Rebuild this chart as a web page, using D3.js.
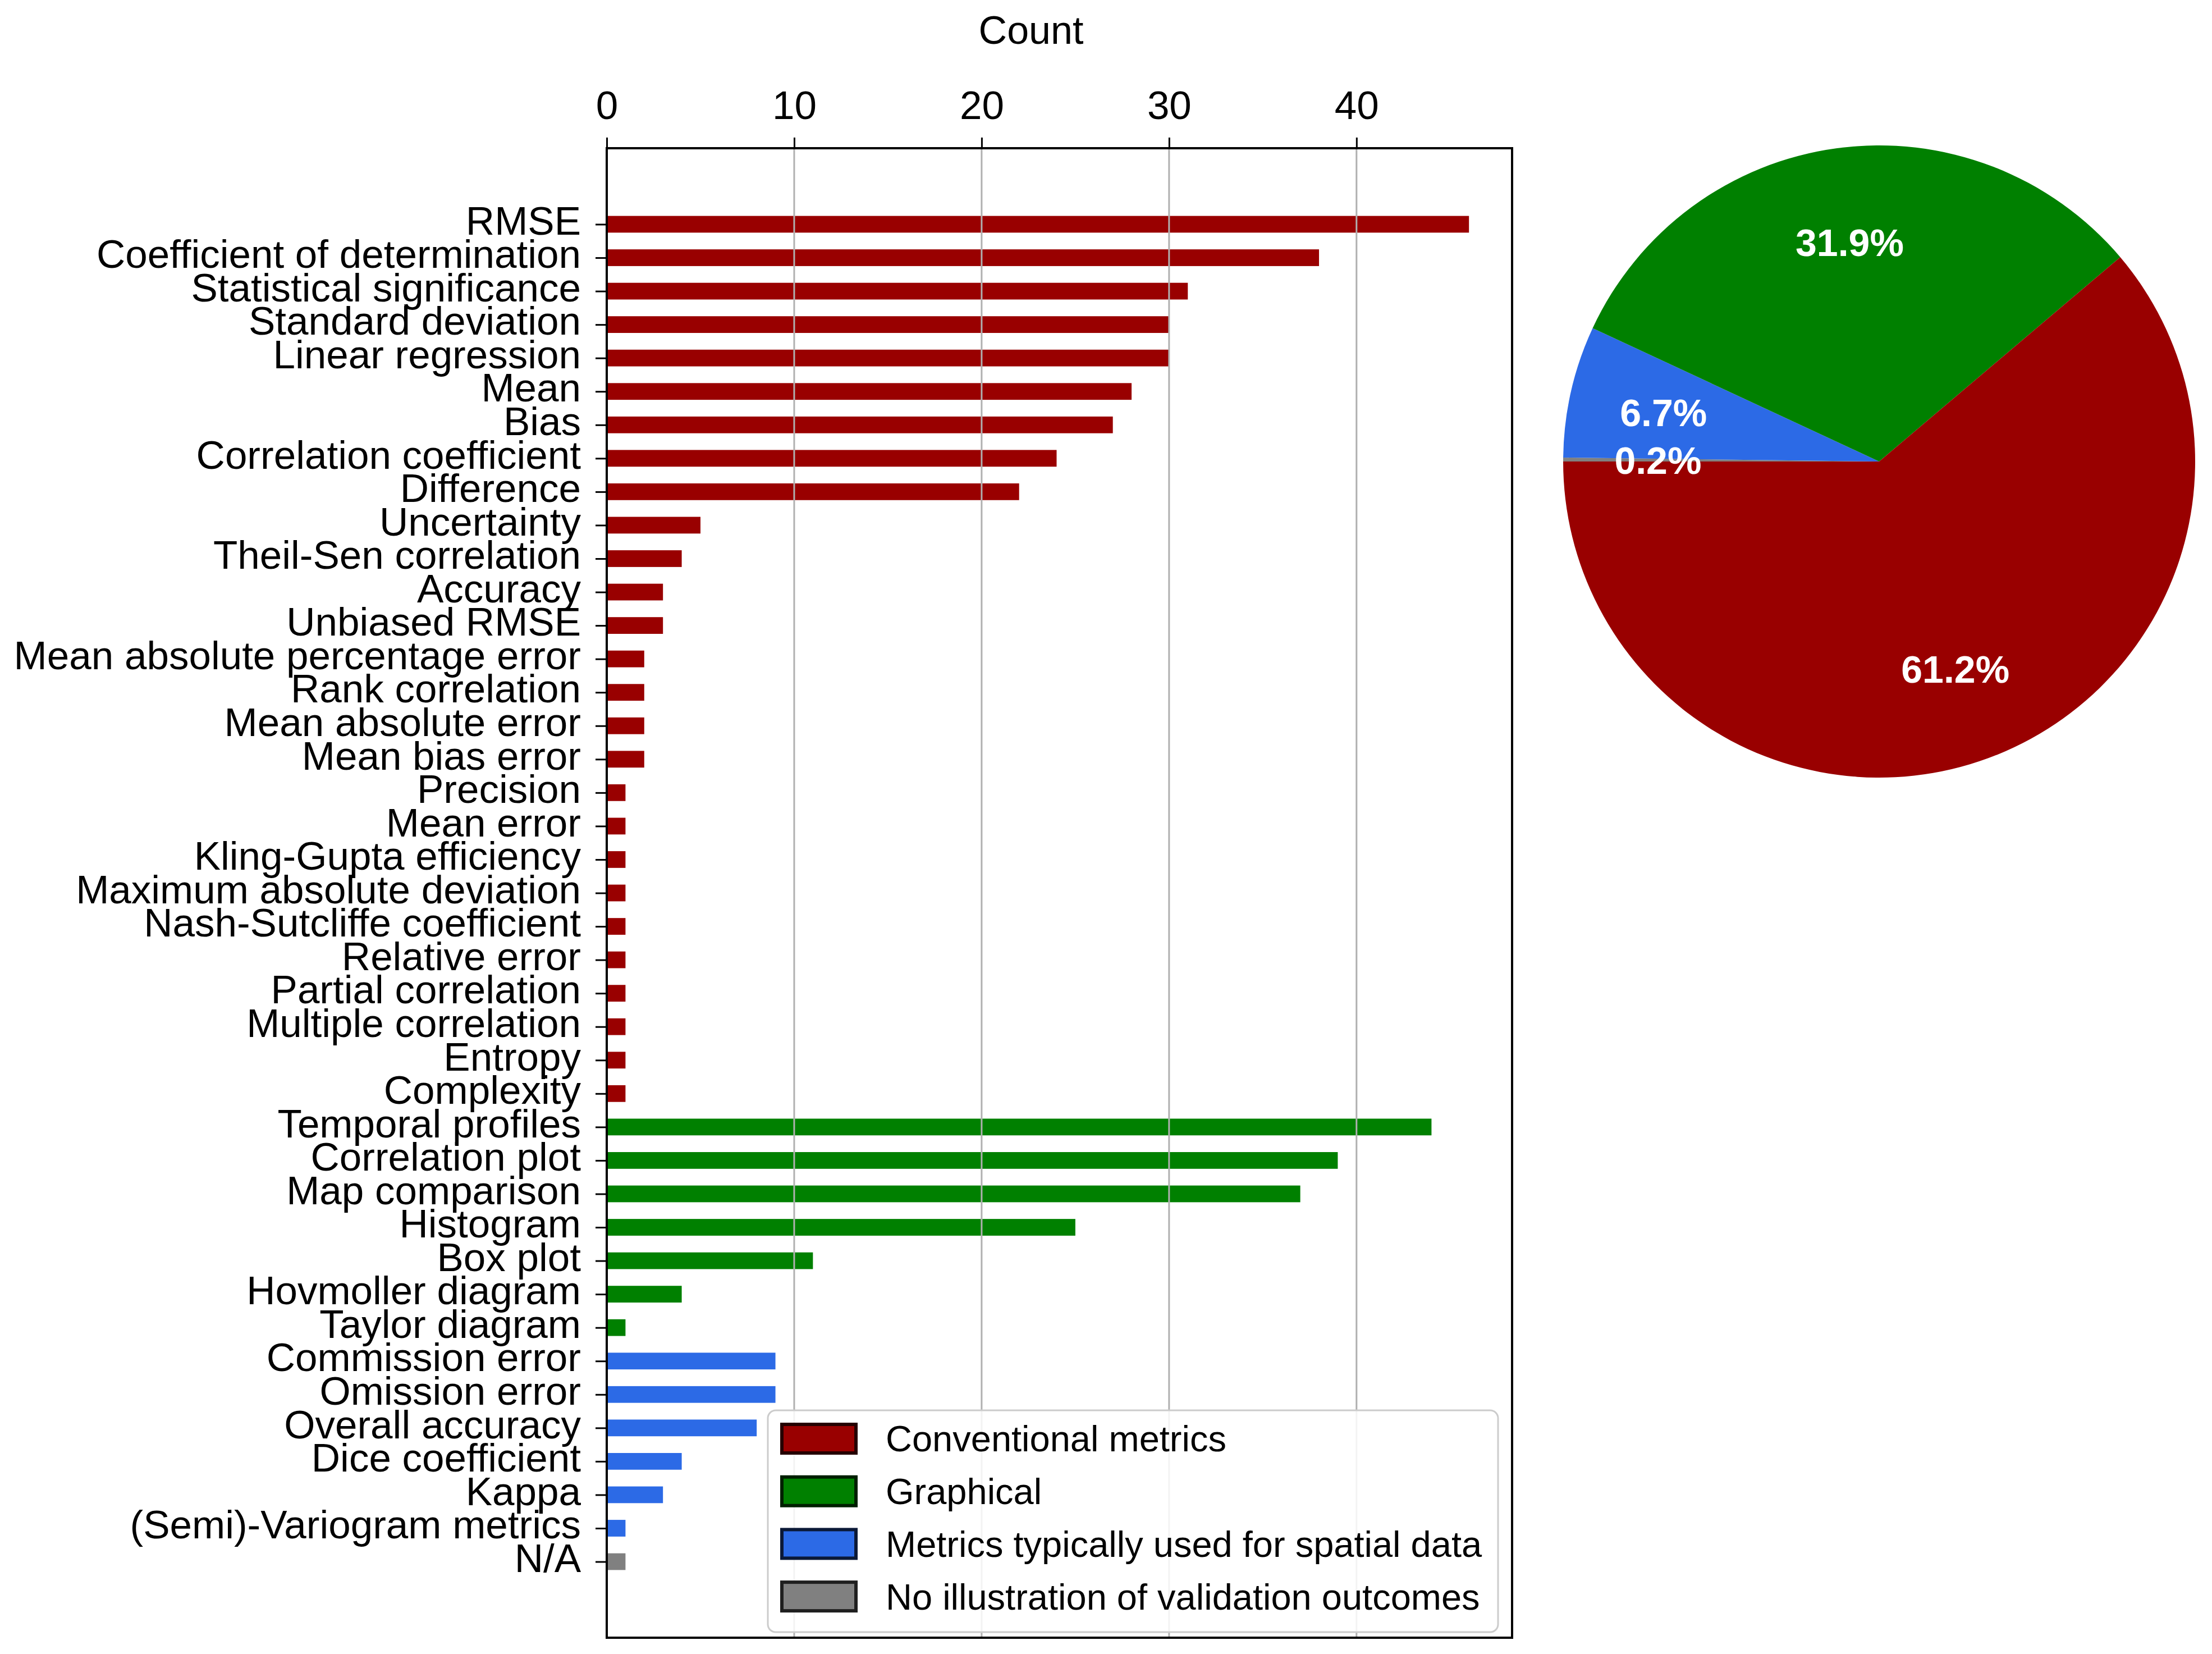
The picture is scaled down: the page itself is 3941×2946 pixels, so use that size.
<!DOCTYPE html>
<html>
<head>
<meta charset="utf-8">
<script src="https://cdn.jsdelivr.net/npm/d3@7"></script>
<style>
  body { margin: 0; background: #fff; }
  svg { display: block; font-family: "Liberation Sans", Arial, sans-serif; }
</style>
</head>
<body>
<div id="chart"></div>
<script>
// metric names, top to bottom
const categories = [
  "RMSE", "Coefficient of determination", "Statistical significance", "Standard deviation",
  "Linear regression", "Mean", "Bias", "Correlation coefficient", "Difference", "Uncertainty",
  "Theil-Sen correlation", "Accuracy", "Unbiased RMSE", "Mean absolute percentage error",
  "Rank correlation", "Mean absolute error", "Mean bias error", "Precision", "Mean error",
  "Kling-Gupta efficiency", "Maximum absolute deviation", "Nash-Sutcliffe coefficient",
  "Relative error", "Partial correlation", "Multiple correlation", "Entropy", "Complexity",
  "Temporal profiles", "Correlation plot", "Map comparison", "Histogram", "Box plot",
  "Hovmoller diagram", "Taylor diagram",
  "Commission error", "Omission error", "Overall accuracy", "Dice coefficient", "Kappa",
  "(Semi)-Variogram metrics",
  "N/A"
];

const counts = [
  46, 38, 31, 30, 30, 28, 27, 24, 22, 5,
  4, 3, 3, 2, 2, 2, 2, 1, 1, 1,
  1, 1, 1, 1, 1, 1, 1,
  44, 39, 37, 25, 11, 4, 1,
  9, 9, 8, 4, 3, 1,
  1
];

// group index of each metric (0 conventional, 1 graphical, 2 spatial, 3 none)
const groupOf = [
  0, 0, 0, 0, 0, 0, 0, 0, 0, 0,
  0, 0, 0, 0, 0, 0, 0, 0, 0, 0,
  0, 0, 0, 0, 0, 0, 0,
  1, 1, 1, 1, 1, 1, 1,
  2, 2, 2, 2, 2, 2,
  3
];

const groups = ["Conventional metrics", "Graphical", "Metrics typically used for spatial data", "No illustration of validation outcomes"];
const groupColors = ["#990000", "#008000", "#2c6ae6", "#808080"];
const xTicks = [0, 10, 20, 30, 40];

const W = 3941, H = 2946;
const svg = d3.select("#chart").append("svg")
  .attr("width", W)
  .attr("height", H);

// plot frame
const plotL = 1081, plotR = 2694, plotT = 264, plotB = 2917;

const x = d3.scaleLinear()
  .domain([0, d3.max(counts) * 1.05])
  .range([plotL, plotR]);

const y = d3.scaleLinear()
  .domain([-2.275, categories.length - 1 + 2.275])
  .range([plotT, plotB]);

// bars
svg.append("g").selectAll("rect")
  .data(counts)
  .join("rect")
  .attr("x", x(0))
  .attr("y", (d, i) => y(i - 0.25))
  .attr("width", d => x(d) - x(0))
  .attr("height", y(0.25) - y(-0.25))
  .attr("fill", (d, i) => groupColors[groupOf[i]]);

// vertical grid, drawn over the bars
svg.append("g").selectAll("line")
  .data(xTicks.filter(t => t > 0))
  .join("line")
  .attr("x1", d => x(d)).attr("x2", d => x(d))
  .attr("y1", plotT).attr("y2", plotB)
  .attr("stroke", "#b0b0b0")
  .attr("stroke-width", 3);

// top axis
const xAxis = svg.append("g")
  .attr("transform", "translate(0," + plotT + ")")
  .call(d3.axisTop(x).tickValues(xTicks).tickSize(19).tickPadding(33).tickSizeOuter(0));
xAxis.select(".domain").remove();
xAxis.selectAll(".tick line").attr("stroke", "#000").attr("stroke-width", 3);
xAxis.selectAll(".tick text").attr("font-size", 71).attr("fill", "#000");

// left axis with category labels
const yAxis = svg.append("g")
  .attr("transform", "translate(" + plotL + ",0)")
  .call(d3.axisLeft(y)
    .tickValues(d3.range(categories.length))
    .tickFormat(i => categories[i])
    .tickSize(20).tickPadding(26));
yAxis.select(".domain").remove();
yAxis.selectAll(".tick line").attr("stroke", "#000").attr("stroke-width", 3);
yAxis.selectAll(".tick text").attr("font-size", 71).attr("fill", "#000").attr("dy", "0.25em");

// frame
svg.append("rect")
  .attr("x", plotL).attr("y", plotT)
  .attr("width", plotR - plotL).attr("height", plotB - plotT)
  .attr("fill", "none")
  .attr("stroke", "#000")
  .attr("stroke-width", 4);

svg.append("text")
  .attr("x", 1837).attr("y", 78)
  .attr("text-anchor", "middle")
  .attr("font-size", 70)
  .text("Count");

// legend
const lg = svg.append("g");
lg.append("rect")
  .attr("x", 1368).attr("y", 2512)
  .attr("width", 1301).attr("height", 395)
  .attr("rx", 14)
  .attr("fill", "#fff").attr("fill-opacity", 0.85)
  .attr("stroke", "#cccccc").attr("stroke-width", 3);

const items = lg.selectAll("g.item")
  .data(groups)
  .join("g")
  .attr("class", "item")
  .attr("transform", (d, i) => "translate(1393," + (2562 + i * 93.7) + ")");

items.append("rect")
  .attr("x", 0).attr("y", -25)
  .attr("width", 132).attr("height", 51)
  .attr("fill", (d, i) => groupColors[i])
  .attr("stroke", (d, i) => d3.color(groupColors[i]).darker(4))
  .attr("stroke-width", 6);

items.append("text")
  .attr("x", 185).attr("y", 0)
  .attr("dy", "0.36em")
  .attr("font-size", 65)
  .text(d => d);

// pie of group totals
const totals = groups.map((g, gi) => d3.sum(counts.filter((c, i) => groupOf[i] === gi)));
const grand = d3.sum(totals);
const pieData = totals.map((v, i) => ({ i, v })).reverse();

const pie = d3.pie()
  .value(d => d.v)
  .sort(null)
  .startAngle(-Math.PI / 2)
  .endAngle(1.5 * Math.PI);

const R = 563;
const arc = d3.arc().innerRadius(0).outerRadius(R);
const labelArc = d3.arc().innerRadius(R * 0.7).outerRadius(R * 0.7);

const pg = svg.append("g").attr("transform", "translate(3348,822)");
const slices = pie(pieData);

pg.selectAll("path")
  .data(slices)
  .join("path")
  .attr("d", arc)
  .attr("fill", d => groupColors[d.data.i]);

pg.selectAll("text")
  .data(slices)
  .join("text")
  .attr("transform", d => "translate(" + labelArc.centroid(d) + ")")
  .attr("text-anchor", "middle")
  .attr("dy", "0.36em")
  .attr("font-size", 68)
  .attr("font-weight", "bold")
  .attr("fill", "#fff")
  .text(d => (d.data.v / grand * 100).toFixed(1) + "%");
</script>
</body>
</html>
